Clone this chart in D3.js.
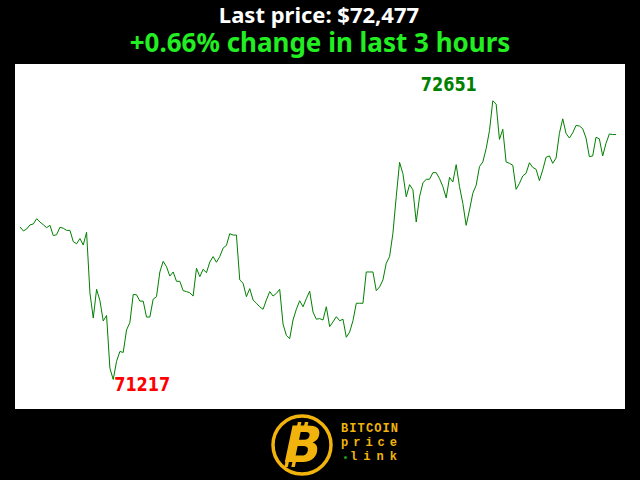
<!DOCTYPE html>
<html>
<head>
<meta charset="utf-8">
<script src="https://cdn.jsdelivr.net/npm/d3@7"></script>
<style>
  html, body { margin: 0; padding: 0; background: #000; }
  svg { display: block; }
</style>
</head>
<body>
<svg id="chart" width="640" height="480"></svg>
<script>
// Chart data: one BTC price per minute, last 3 hours
const lastPrice = 72477;
const changePct = 0.66;
const prices = [
  72002, 71981, 71991, 72012, 72017, 72044, 72027, 72013, 71998, 72010,
  71957, 71962, 72000, 71995, 71984, 71984, 71926, 71915, 71942, 71909,
  71974, 71662, 71533, 71681, 71623, 71518, 71546, 71275, 71217, 71310,
  71361, 71356, 71472, 71510, 71654, 71653, 71620, 71620, 71538, 71538,
  71630, 71643, 71770, 71825, 71797, 71749, 71770, 71722, 71722, 71674,
  71669, 71663, 71646, 71789, 71746, 71784, 71766, 71821, 71849, 71820,
  71849, 71893, 71907, 71967, 71960, 71960, 71729, 71712, 71643, 71684,
  71626, 71609, 71591, 71578, 71626, 71669, 71646, 71660, 71681, 71502,
  71444, 71427, 71523, 71578, 71622, 71591, 71633, 71671, 71564, 71527,
  71530, 71523, 71591, 71489, 71513, 71540, 71519, 71527, 71434, 71461,
  71519, 71609, 71609, 71609, 71770, 71770, 71770, 71674, 71693, 71729,
  71815, 71849, 71969, 72157, 72334, 72276, 72157, 72219, 72193, 72027,
  72157, 72228, 72247, 72247, 72281, 72281, 72250, 72209, 72151, 72257,
  72233, 72322, 72209, 72123, 72010, 72089, 72175, 72216, 72312, 72336,
  72404, 72497, 72651, 72634, 72452, 72504, 72336, 72329, 72319, 72195,
  72226, 72264, 72278, 72332, 72308, 72298, 72240, 72295, 72360, 72367,
  72329, 72356, 72483, 72558, 72483, 72459, 72486, 72524, 72521, 72507,
  72459, 72363, 72367, 72463, 72455, 72367, 72432, 72480, 72477, 72477
];
const logoWords = ["BITCOIN", "price", "link"];

const svg = d3.select("#chart");
const width = +svg.attr("width");
const height = +svg.attr("height");

svg.append("rect")
    .attr("width", width)
    .attr("height", height)
    .attr("fill", "#000");

// Titles
svg.append("text")
    .attr("x", 319)
    .attr("y", 23)
    .attr("text-anchor", "middle")
    .attr("font-family", "'Noto Sans', 'Open Sans', sans-serif")
    .attr("font-weight", "bold")
    .attr("font-size", "22px")
    .attr("fill", "#fff")
    .text("Last price: $" + d3.format(",")(lastPrice));

svg.append("text")
    .attr("x", 320)
    .attr("y", 52)
    .attr("text-anchor", "middle")
    .attr("font-family", "'Noto Sans', 'Open Sans', sans-serif")
    .attr("font-weight", "bold")
    .attr("font-size", "26px")
    .attr("fill", "#22ee22")
    .text((changePct >= 0 ? "+" : "") + changePct.toFixed(2) + "% change in last 3 hours");

// Plot area
const plot = { left: 15, top: 64, right: 625, bottom: 409 };
svg.append("rect")
    .attr("x", plot.left)
    .attr("y", plot.top)
    .attr("width", plot.right - plot.left)
    .attr("height", plot.bottom - plot.top)
    .attr("fill", "#fff");

const x = d3.scaleLinear()
    .domain([0, prices.length - 1])
    .range([20, 616]);

const y = d3.scaleLinear()
    .domain([71065, 72840])
    .range([plot.bottom, plot.top]);

const line = d3.line()
    .x((d, i) => x(i))
    .y(d => y(d));

svg.append("path")
    .datum(prices)
    .attr("fill", "none")
    .attr("stroke", "#008000")
    .attr("stroke-width", 1)
    .attr("d", line);

// Min / max labels
const maxVal = d3.max(prices);
const minVal = d3.min(prices);
const maxIdx = prices.indexOf(maxVal);
const minIdx = prices.indexOf(minVal);

svg.append("text")
    .attr("x", x(maxIdx) - 44)
    .attr("y", y(maxVal) - 10)
    .attr("text-anchor", "middle")
    .attr("font-family", "'DejaVu Sans', sans-serif")
    .attr("font-weight", "bold")
    .attr("font-size", "20px")
    .attr("textLength", 56)
    .attr("lengthAdjust", "spacingAndGlyphs")
    .attr("fill", "#008000")
    .text(maxVal);

svg.append("text")
    .attr("x", x(minIdx) + 1)
    .attr("y", y(minVal) + 12)
    .attr("text-anchor", "start")
    .attr("font-family", "'DejaVu Sans', sans-serif")
    .attr("font-weight", "bold")
    .attr("font-size", "20px")
    .attr("textLength", 56)
    .attr("lengthAdjust", "spacingAndGlyphs")
    .attr("fill", "#ff0000")
    .text(minVal);

// Logo
const gold = "#f2b40c";
const logo = svg.append("g");
logo.append("circle")
    .attr("cx", 302)
    .attr("cy", 445)
    .attr("r", 29)
    .attr("fill", "#000")
    .attr("stroke", gold)
    .attr("stroke-width", 3.5);

const coin = logo.append("g")
    .attr("transform", "translate(302,445) skewX(-12)");
[-9, -2].forEach(dx => {
    coin.append("rect").attr("x", dx).attr("y", -23).attr("width", 3.5).attr("height", 7).attr("fill", gold);
    coin.append("rect").attr("x", dx - 4).attr("y", 15).attr("width", 3.5).attr("height", 7).attr("fill", gold);
});
coin.append("text")
    .attr("x", 1)
    .attr("y", 17)
    .attr("text-anchor", "middle")
    .attr("font-family", "'DejaVu Sans', sans-serif")
    .attr("font-weight", "bold")
    .attr("font-size", "50px")
    .attr("fill", gold)
    .text("B");

const wordLeft = [341, 341, 350];
const wordLen = [57, 56, 47];
logoWords.forEach((w, i) => {
    logo.append("text")
        .attr("x", wordLeft[i])
        .attr("y", 432 + i * 14)
        .attr("textLength", wordLen[i])
        .attr("lengthAdjust", "spacing")
        .attr("font-family", "'Liberation Mono', 'DejaVu Sans Mono', monospace")
        .attr("font-weight", "bold")
        .attr("font-size", "12px")
        .attr("fill", gold)
        .text(w);
});
logo.append("circle")
    .attr("cx", 345.5)
    .attr("cy", 457.5)
    .attr("r", 1.6)
    .attr("fill", "#1a9a1a");
</script>
</body>
</html>
